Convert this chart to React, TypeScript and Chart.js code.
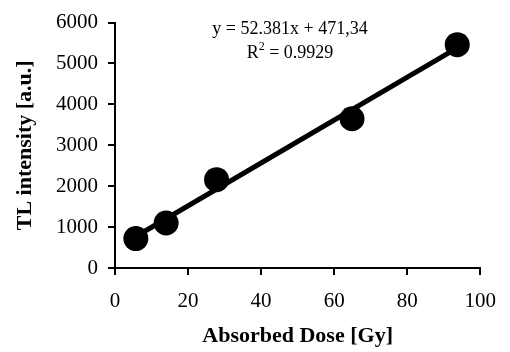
import React, { useEffect, useRef } from "react";
import { Chart, registerables } from "chart.js";

Chart.register(...registerables);

const doseGy = [5.7, 14.0, 27.8, 64.9, 93.7];
const tlIntensity = [720, 1100, 2160, 3650, 5460];
const trendX = [5.7, 93.7];
const trendY = [770, 5380];
const equationLine = "y = 52.381x + 471,34";
const rSquaredLabel = "R";
const rSquaredValue = " = 0.9929";
const xTitle = "Absorbed Dose [Gy]";
const yTitle = "TL intensity [a.u.]";

const SERIF = "'Liberation Serif', 'Times New Roman', serif";

const equationPlugin = {
  id: "equationText",
  afterDraw(chart: any) {
    const ctx = chart.ctx;
    ctx.save();
    ctx.fillStyle = "#000";
    ctx.font = `18px ${SERIF}`;
    ctx.textBaseline = "alphabetic";
    ctx.textAlign = "center";
    const cx = 290;
    ctx.fillText(equationLine, cx, 34);
    const wR = ctx.measureText(rSquaredLabel).width;
    ctx.font = `12px ${SERIF}`;
    const w2 = ctx.measureText("2").width;
    ctx.font = `18px ${SERIF}`;
    const wV = ctx.measureText(rSquaredValue).width;
    const total = wR + w2 + wV;
    let x = cx - total / 2;
    ctx.textAlign = "left";
    ctx.fillText(rSquaredLabel, x, 57.5);
    x += wR;
    ctx.font = `12px ${SERIF}`;
    ctx.fillText("2", x, 50);
    x += w2;
    ctx.font = `18px ${SERIF}`;
    ctx.fillText(rSquaredValue, x, 57.5);
    ctx.restore();
  },
};

export default function App() {
  const ref = useRef<HTMLCanvasElement | null>(null);

  useEffect(() => {
    if (!ref.current) return;
    const chart = new Chart(ref.current, {
      type: "scatter",
      data: {
        datasets: [
          {
            type: "line",
            data: trendX.map((x, i) => ({ x, y: trendY[i] })),
            borderColor: "#000",
            borderWidth: 5,
            pointRadius: 0,
            fill: false,
            order: 2,
          } as any,
          {
            data: doseGy.map((x, i) => ({ x, y: tlIntensity[i] })),
            backgroundColor: "#000",
            borderWidth: 0,
            pointRadius: 12.5,
            pointBorderWidth: 0,
            order: 1,
          },
        ],
      },
      options: {
        responsive: false,
        animation: false,
        layout: { padding: { left: 0, top: 15, right: 25, bottom: 0 } },
        plugins: {
          legend: { display: false },
          tooltip: { enabled: false },
        },
        scales: {
          x: {
            type: "linear",
            min: 0,
            max: 100,
            ticks: {
              stepSize: 20,
              color: "#000",
              padding: 14,
              font: { family: SERIF, size: 21 },
              callback: (v: any) => String(v),
            },
            grid: {
              drawOnChartArea: false,
              drawTicks: true,
              tickLength: 7,
              color: "#000",
              lineWidth: 2,
            },
            border: { color: "#000", width: 2 },
            title: {
              display: true,
              text: xTitle,
              color: "#000",
              font: { family: SERIF, size: 22, weight: "bold" },
              padding: { top: 0, bottom: 2 },
            },
            afterFit(scale: any) {
              scale.height = 84;
            },
          },
          y: {
            type: "linear",
            min: 0,
            max: 6000,
            ticks: {
              stepSize: 1000,
              color: "#000",
              padding: 10,
              font: { family: SERIF, size: 21 },
              callback: (v: any) => String(v),
            },
            grid: {
              drawOnChartArea: false,
              drawTicks: true,
              tickLength: 7,
              color: "#000",
              lineWidth: 2,
            },
            border: { color: "#000", width: 2 },
            title: {
              display: true,
              text: yTitle,
              color: "#000",
              font: { family: SERIF, size: 22, weight: "bold" },
              padding: { top: 12, bottom: 0 },
            },
            afterFit(scale: any) {
              scale.width = 115;
            },
          },
        },
      },
      plugins: [equationPlugin],
    });
    return () => chart.destroy();
  }, []);

  return (
    <div style={{ position: "absolute", left: 0, top: 0, width: 510, height: 352, background: "#fff" }}>
      <canvas ref={ref} width={510} height={352} />
    </div>
  );
}
